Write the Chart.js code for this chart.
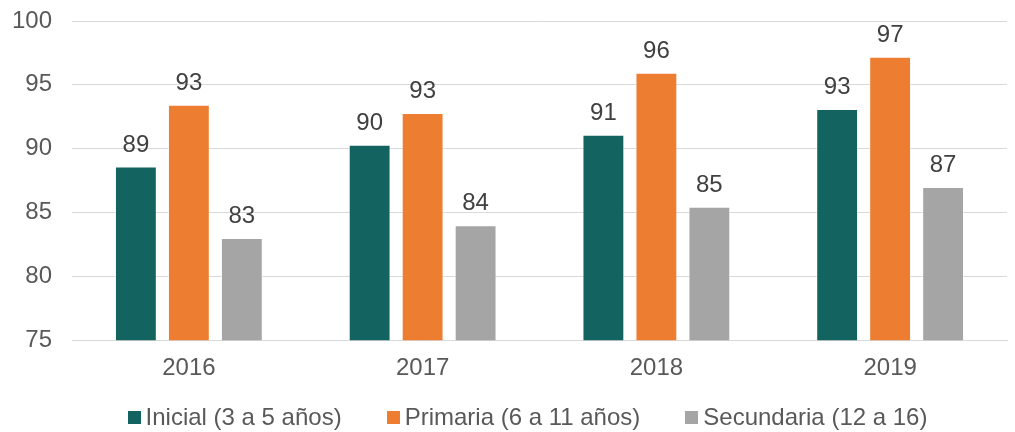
<!DOCTYPE html>
<html lang="es">
<head>
    <meta charset="UTF-8">
    <title>Tasa de matrícula</title>
    <style>
        body {
            margin: 0;
            background-color: #ffffff;
            font-family: "Liberation Sans", Arial, sans-serif;
        }
        .wrap {
            position: relative;
            width: 1015px;
            height: 432px;
        }
        .legend {
            position: absolute;
            left: 0;
            top: 404px;
            width: 1015px;
            display: flex;
            justify-content: center;
            padding-left: 40px;
            box-sizing: border-box;
            gap: 45px;
            font-size: 24px;
            line-height: 26px;
            color: #595959;
        }
        .legend-item {
            display: flex;
            align-items: center;
        }
        .legend-item i {
            display: inline-block;
            width: 13px;
            height: 13px;
            margin-right: 5px;
        }
    </style>
    <script src="https://cdn.jsdelivr.net/npm/chart.js"></script>
</head>
<body>
    <div class="wrap">
        <canvas id="chart" width="1015" height="432"></canvas>
        <div class="legend" id="legend"></div>
    </div>
    <script>
        const years = ['2016', '2017', '2018', '2019'];
        const inicial = [88.6, 90.3, 91.1, 93.1];
        const primaria = [93.45, 92.8, 95.95, 97.2];
        const secundaria = [83.0, 84.0, 85.45, 87.0];
        const seriesNames = ['Inicial (3 a 5 años)', 'Primaria (6 a 11 años)', 'Secundaria (12 a 16)'];
        const colors = ['#136360', '#ED7D31', '#A5A5A5'];
        const yTicks = [75, 80, 85, 90, 95, 100];

        const fontFamily = '"Liberation Sans", Arial, sans-serif';

        // etiquetas de valor encima de cada barra
        const valueLabels = {
            id: 'valueLabels',
            afterDatasetsDraw(chart) {
                const ctx = chart.ctx;
                ctx.save();
                ctx.font = '24px ' + fontFamily;
                ctx.fillStyle = '#404040';
                ctx.textAlign = 'center';
                ctx.textBaseline = 'alphabetic';
                chart.data.datasets.forEach((ds, i) => {
                    chart.getDatasetMeta(i).data.forEach((bar, j) => {
                        ctx.fillText(Math.round(ds.data[j]), bar.x, bar.y - 15);
                    });
                });
                ctx.restore();
            }
        };

        const allSeries = [inicial, primaria, secundaria];

        new Chart(document.getElementById('chart'), {
            type: 'bar',
            data: {
                labels: years,
                datasets: allSeries.map((values, i) => ({
                    label: seriesNames[i],
                    data: values,
                    backgroundColor: colors[i],
                    borderColor: 'rgba(255,255,255,0.55)',
                    borderWidth: 1,
                    categoryPercentage: 0.68,
                    barPercentage: 0.79
                }))
            },
            options: {
                responsive: false,
                animation: false,
                layout: {
                    padding: { top: 21, left: 12, right: 8, bottom: 35 }
                },
                plugins: {
                    legend: { display: false },
                    tooltip: { enabled: false }
                },
                scales: {
                    x: {
                        grid: { display: false, drawTicks: false },
                        border: { display: true, color: '#D9D9D9', width: 1 },
                        ticks: {
                            padding: 14,
                            color: '#595959',
                            font: { family: fontFamily, size: 24 }
                        }
                    },
                    y: {
                        min: yTicks[0],
                        max: yTicks[yTicks.length - 1],
                        afterBuildTicks: axis => {
                            axis.ticks = yTicks.map(v => ({ value: v }));
                        },
                        afterFit: axis => {
                            axis.width = 60;
                            axis.paddingTop = 0;
                            axis.paddingBottom = 0;
                        },
                        grid: { color: '#D9D9D9', lineWidth: 1, drawTicks: false },
                        border: { display: false },
                        ticks: {
                            padding: 20,
                            color: '#595959',
                            font: { family: fontFamily, size: 24 }
                        }
                    }
                }
            },
            plugins: [valueLabels]
        });

        const legend = document.getElementById('legend');
        seriesNames.forEach((name, i) => {
            const item = document.createElement('span');
            item.className = 'legend-item';
            const box = document.createElement('i');
            box.style.backgroundColor = colors[i];
            item.appendChild(box);
            item.appendChild(document.createTextNode(name));
            legend.appendChild(item);
        });
    </script>
</body>
</html>
